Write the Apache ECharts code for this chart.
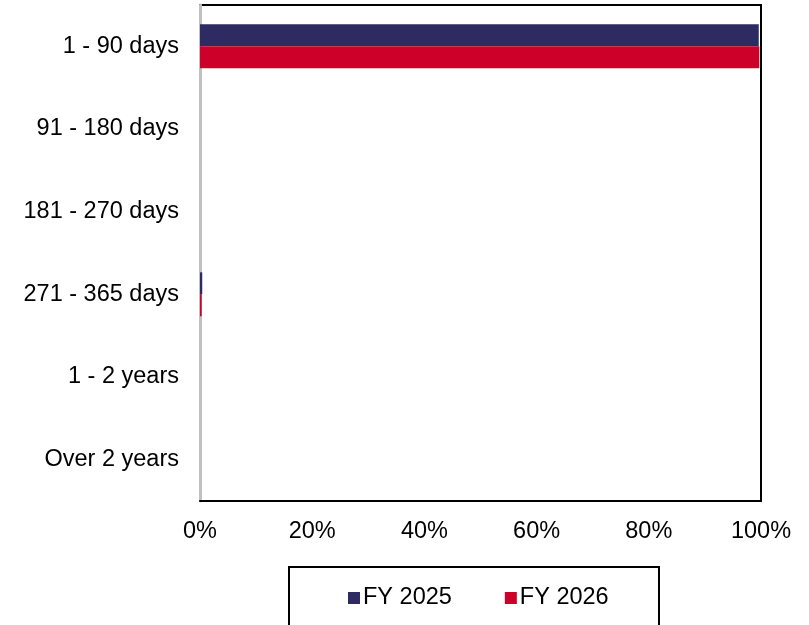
<!DOCTYPE html>
<html>
<head>
<meta charset="utf-8">
<script src="https://cdn.jsdelivr.net/npm/echarts@6/dist/echarts.min.js"></script>
<style>html,body{margin:0;padding:0;background:#fff;}#c{width:809px;height:625px;}</style>
</head>
<body>
<div id="c"></div>
<script>
var categories = ['1 - 90 days', '91 - 180 days', '181 - 270 days', '271 - 365 days', '1 - 2 years', 'Over 2 years'];
var fy2025 = [99.6, 0, 0, 0.4, 0, 0];
var fy2026 = [99.7, 0, 0, 0.3, 0, 0];
var xTicks = [0, 20, 40, 60, 80, 100];

var chart = echarts.init(document.getElementById('c'));
var font = '"Liberation Sans", Arial, sans-serif';
chart.setOption({
  animation: false,
  textStyle: {fontFamily: font},
  grid: {left: 200, right: 48, top: 5, bottom: 124, show: true, borderColor: '#000', borderWidth: 2, backgroundColor: '#fff'},
  xAxis: {
    type: 'value', min: xTicks[0], max: xTicks[xTicks.length - 1], interval: 20,
    axisLine: {show: true, lineStyle: {color: '#000', width: 2}},
    axisTick: {show: false},
    splitLine: {show: false},
    axisLabel: {formatter: '{value}%', fontSize: 23.5, color: '#000', margin: 19, fontFamily: font}
  },
  yAxis: {
    type: 'category', data: categories, inverse: true,
    axisLine: {show: true, lineStyle: {color: '#c0c0c0', width: 3}},
    axisTick: {show: false},
    axisLabel: {fontSize: 23.5, color: '#000', margin: 21, fontFamily: font, padding: [4, 0, 0, 0]}
  },
  legend: {
    left: 343, top: 581, itemWidth: 12, itemHeight: 12, itemGap: 53,
    icon: 'rect',
    textStyle: {fontSize: 23.5, color: '#000', fontFamily: font, padding: [0, 0, 0, -2]},
    data: ['FY 2025', 'FY 2026']
  },
  graphic: [{
    type: 'rect', left: 288, top: 566, z: -1,
    shape: {width: 370, height: 80},
    style: {fill: '#fff', stroke: '#000', lineWidth: 2}
  }],
  series: [
    {name: 'FY 2025', type: 'bar', data: fy2025, barWidth: 22, barGap: '0%', itemStyle: {color: '#2E2A62'}},
    {name: 'FY 2026', type: 'bar', data: fy2026, barWidth: 22, barGap: '0%', itemStyle: {color: '#CC0029'}}
  ]
});
</script>
</body>
</html>
